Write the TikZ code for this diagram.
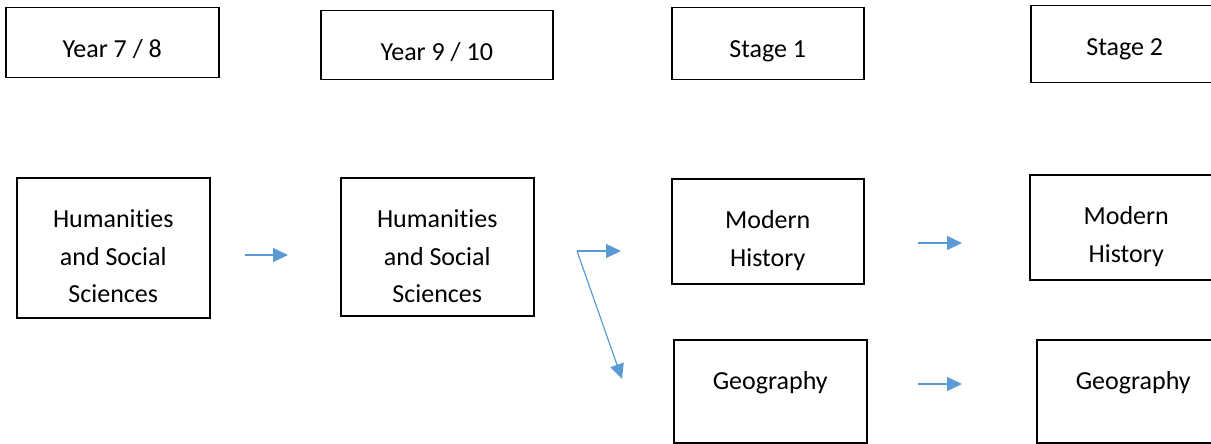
\documentclass[tikz,border=0pt]{standalone}
\usepackage{fontspec}
\setmainfont{Carlito}[Ligatures=NoCommon]
\usepackage{tikz}
\usepackage{xcolor}
\usetikzlibrary{arrows.meta,positioning}
\definecolor{arrowblue}{RGB}{91,155,213}

\begin{document}
\begin{tikzpicture}[
    x=1pt, y=-1pt,
    font=\fontsize{26}{37.5}\selectfont,
    box/.style={
      draw,
      line width=1.5pt,
      inner sep=0pt,
      align=flush center,
      text height=50pt,
      anchor=north west
    },
    yearbox/.style={box, text width=#1},
    link/.style={-{Triangle[length=15pt,width=14pt]}, line width=1.2pt, draw=arrowblue}
  ]
    \useasboundingbox (0,0) rectangle (1211,444);

    \node[yearbox=213pt, text depth=20pt] (year78) at (5,7) {Year 7 / 8};
    \node[yearbox=232pt, text depth=19pt] (year910) at (320,10) {Year 9 / 10};
    \node[yearbox=192pt, text depth=22pt] (stage1) at (671,7) {Stage 1};
    \node[yearbox=188pt, text depth=27pt] (stage2) at (1030,5) {Stage 2};

    \node[box, text width=193pt, text depth=90pt] (hass1) at (16,177)
      {Humanities\\and Social\\Sciences};
    \node[box, text width=193pt, text depth=88pt] (hass2) at (340,177)
      {Humanities\\and Social\\Sciences};
    \node[box, text width=192pt, text depth=55pt] (history1) at (671,178)
      {Modern\\History};
    \node[box, text width=193pt, text depth=53pt] (geography1) at (673,339)
      {Geography};
    \node[box, text width=193pt, text depth=55pt] (history2) at (1029,174)
      {Modern\\History};
    \node[box, text width=193pt, text depth=53pt] (geography2) at (1036,339)
      {Geography};

    \coordinate (hassout) at (245,255);
    \coordinate (hassin) at (288,255);
    \coordinate (split) at (577,251);
    \coordinate (historyin) at (621,251);
    \coordinate (geographyin) at (622,379);
    \coordinate (historyout) at (918,243);
    \coordinate (historynext) at (962,243);
    \coordinate (geographyout) at (918,384);
    \coordinate (geographynext) at (962,384);

    \draw[link] (hassout) -- (hassin);
    \draw[link] (split) -- (historyin);
    \draw[link] (split) -- (geographyin);
    \draw[link] (historyout) -- (historynext);
    \draw[link] (geographyout) -- (geographynext);
  \end{tikzpicture}
\end{document}
